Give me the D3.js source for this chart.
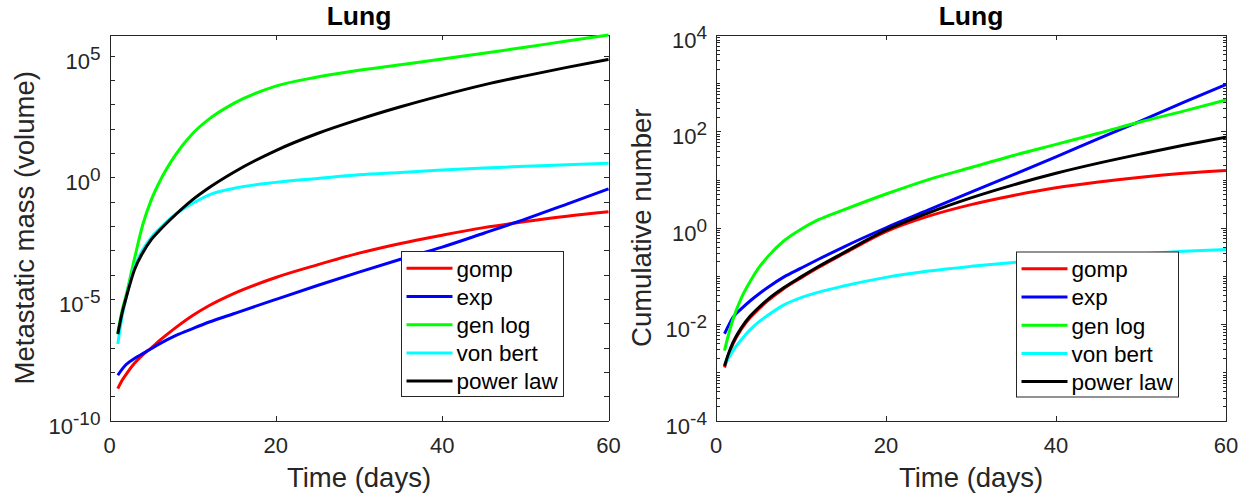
<!DOCTYPE html>
<html>
<head>
<meta charset="utf-8">
<script src="https://cdn.jsdelivr.net/npm/d3@7/dist/d3.min.js"></script>
<style>
    body { margin: 0; background: #fff; }
    svg text { font-family: "Liberation Sans", Arial, Helvetica, sans-serif; fill: #262626; }
</style>
</head>
<body>
<div id="chart"></div>
<script>
// sample days (same for both panels)
var days = [1, 1.5, 2, 3, 4, 5, 6, 8, 10, 12, 15, 20, 25, 30, 35, 40, 45, 50, 55, 60];

var series_names  = ['gomp', 'exp', 'gen log', 'von bert', 'power law'];
var series_colors = ['#ff0000', '#0000ff', '#00ff00', '#00ffff', '#000000'];

// left panel - metastatic mass (volume)
var mass_gomp    = [2.04e-9, 4.37e-9, 7.94e-9, 2.24e-8, 5.01e-8, 9.55e-8, 1.91e-7, 6.76e-7, 2.09e-6, 5.37e-6,
                    1.70e-5, 7.59e-5, 2.51e-4, 7.59e-4, 1.91e-3, 4.17e-3, 8.51e-3, 1.51e-2, 2.51e-2, 3.80e-2];
var mass_exp     = [7.24e-9, 1.26e-8, 2.0e-8, 3.55e-8, 5.62e-8, 8.91e-8, 1.41e-7, 3.16e-7, 6.03e-7, 1.12e-6,
                    2.51e-6, 9.55e-6, 3.55e-5, 1.26e-4, 4.27e-4, 1.35e-3, 5.01e-3, 1.91e-2, 7.94e-2, 0.331];
var mass_genlog  = [3.98e-7, 3.16e-6, 1.41e-5, 4.47e-4, 1.12e-2, 0.112, 0.631, 8.91, 63.1, 251,
                    1120, 5620, 13200, 25100, 42700, 72400, 126000, 224000, 398000, 708000];
var mass_vonbert = [1.41e-7, 1.78e-6, 1.12e-5, 2.0e-4, 1.05e-3, 3.31e-3, 7.59e-3, 3.16e-2, 8.51e-2, 0.191,
                    0.355, 0.617, 0.891, 1.26, 1.58, 2.0, 2.40, 2.82, 3.31, 3.80];
var mass_power   = [3.55e-7, 2.51e-6, 1.12e-5, 1.58e-4, 7.94e-4, 2.69e-3, 6.46e-3, 3.02e-2, 0.120, 0.380,
                    1.66, 12.6, 63.1, 240, 794, 2340, 6310, 14800, 33100, 70800];

// right panel - cumulative number
var num_gomp    = [1.26e-3, 2.34e-3, 3.89e-3, 7.94e-3, 1.35e-2, 2.04e-2, 2.95e-2, 5.50e-2, 9.12e-2, 0.148,
                   0.288, 0.832, 1.74, 3.02, 4.68, 6.76, 8.91, 11.2, 13.5, 15.5];
var num_exp     = [6.31e-3, 9.55e-3, 1.38e-2, 2.09e-2, 3.02e-2, 4.17e-2, 5.62e-2, 9.55e-2, 0.145, 0.219,
                   0.398, 1.0, 2.34, 5.50, 12.6, 29.5, 70.8, 166, 398, 933];
var num_genlog  = [2.82e-3, 6.31e-3, 1.26e-2, 3.55e-2, 7.59e-2, 0.145, 0.240, 0.537, 0.933, 1.45,
                   2.34, 5.01, 10.0, 17.8, 31.6, 53.7, 91.2, 158, 263, 447];
var num_vonbert = [1.41e-3, 2.0e-3, 2.82e-3, 4.79e-3, 7.59e-3, 1.10e-2, 1.48e-2, 2.51e-2, 3.55e-2, 4.57e-2,
                   6.17e-2, 9.33e-2, 0.126, 0.158, 0.191, 0.224, 0.257, 0.288, 0.324, 0.355];
var num_power   = [1.35e-3, 2.51e-3, 4.17e-3, 8.51e-3, 1.45e-2, 2.19e-2, 3.16e-2, 5.75e-2, 9.55e-2, 0.155,
                   0.302, 0.891, 2.04, 4.17, 7.76, 13.5, 21.9, 33.9, 51.3, 75.9];

// tick labels
var x_ticks       = [0, 20, 40, 60];
var mass_exponent = [-10, -5, 0, 5];
var num_exponent  = [-4, -2, 0, 2, 4];

var svg = d3.select('#chart')
    .append('svg')
    .attr('width', 1249)
    .attr('height', 499);

draw_panel({
    left: 109.5, right: 608.5, top: 35, bottom: 420.5,
    y_domain: [1e-10, d3.max(mass_genlog)],
    exponents: mass_exponent,
    minor: d3.range(-10, 6).map(function(k) { return Math.pow(10, k); }),
    minor_len: 5,
    series: [mass_gomp, mass_exp, mass_genlog, mass_vonbert, mass_power],
    y_label: 'Metastatic mass (volume)', y_label_x: 34,
    legend_x: 401.5, legend_y: 251.5
});

draw_panel({
    left: 716, right: 1226, top: 35, bottom: 420.5,
    y_domain: [1e-4, 1e4],
    exponents: num_exponent,
    minor: d3.merge(d3.range(-4, 4).map(function(k) {
        return d3.range(1, 10).map(function(m) { return m * Math.pow(10, k); });
    })),
    minor_len: 3.5,
    series: [num_gomp, num_exp, num_genlog, num_vonbert, num_power],
    y_label: 'Cumulative number', y_label_x: 651,
    legend_x: 1016.5, legend_y: 252
});

function draw_panel(p) {
    var g = svg.append('g');

    var x_scale = d3.scaleLinear().domain([0, 60]).range([p.left, p.right]);
    var y_scale = d3.scaleLog().domain(p.y_domain).range([p.bottom, p.top]);

    var major = p.exponents.map(function(e) { return Math.pow(10, e); });

// axes, ticks pointing inward on all four sides
    var axes = [
        [d3.axisBottom(x_scale).tickValues(x_ticks), p.bottom, 'y', 5],
        [d3.axisTop(x_scale).tickValues(x_ticks), p.top, 'y', 5],
        [d3.axisLeft(y_scale).tickValues(p.minor), p.left, 'x', p.minor_len],
        [d3.axisRight(y_scale).tickValues(p.minor), p.right, 'x', p.minor_len],
        [d3.axisLeft(y_scale).tickValues(major), p.left, 'x', 5],
        [d3.axisRight(y_scale).tickValues(major), p.right, 'x', 5]
    ];
    axes.forEach(function(a) {
        var ax = g.append('g')
            .attr('transform', a[2] == 'y' ? 'translate(0,' + a[1] + ')' : 'translate(' + a[1] + ',0)')
            .call(a[0].tickSizeInner(-a[3]).tickSizeOuter(0).tickFormat(''));
        ax.selectAll('line, path').attr('stroke', '#262626').attr('stroke-width', 1)
            .attr('shape-rendering', 'crispEdges');
    });

// tick labels
    g.selectAll('.xlab')
        .data(x_ticks)
        .enter()
        .append('text')
        .attr('x', function(d) { return x_scale(d); })
        .attr('y', p.bottom + 32)
        .attr('text-anchor', 'middle')
        .style('font-size', '22px')
        .text(function(d) { return d; });

    var ylab = g.selectAll('.ylab')
        .data(p.exponents)
        .enter()
        .append('text')
        .attr('x', p.left - 9)
        .attr('y', function(d) { return y_scale(Math.pow(10, d)) + 13; })
        .attr('text-anchor', 'end')
        .style('font-size', '22px');
    ylab.append('tspan').text('10');
    ylab.append('tspan')
        .attr('dy', -9)
        .style('font-size', '19px')
        .text(function(d) { return d; });

// curves
    var line = d3.line()
        .x(function(d) { return x_scale(d[0]); })
        .y(function(d) { return y_scale(d[1]); })
        .curve(d3.curveMonotoneX);

    p.series.forEach(function(values, i) {
        g.append('path')
            .datum(d3.zip(days, values))
            .attr('d', line)
            .attr('fill', 'none')
            .attr('stroke', series_colors[i])
            .attr('stroke-width', 3);
    });

// titles
    var cx = (p.left + p.right) / 2;
    g.append('text')
        .attr('x', cx).attr('y', 25)
        .attr('text-anchor', 'middle')
        .style('font-size', '26.5px').style('font-weight', 'bold')
        .style('fill', '#000')
        .text('Lung');
    g.append('text')
        .attr('x', cx).attr('y', 487)
        .attr('text-anchor', 'middle')
        .style('font-size', '27.5px')
        .text('Time (days)');
    g.append('text')
        .attr('transform', 'translate(' + p.y_label_x + ',' + (p.top + p.bottom) / 2 + ') rotate(-90)')
        .attr('text-anchor', 'middle')
        .style('font-size', '27.5px')
        .text(p.y_label);

// legend
    var lg = g.append('g').attr('transform', 'translate(' + p.legend_x + ',' + p.legend_y + ')');
    lg.append('rect')
        .attr('width', 162).attr('height', 145)
        .attr('fill', '#fff').attr('stroke', '#262626').attr('stroke-width', 1);
    series_names.forEach(function(name, i) {
        var yy = 16.8 + i * 28.2;
        lg.append('line')
            .attr('x1', 5).attr('x2', 51).attr('y1', yy).attr('y2', yy)
            .attr('stroke', series_colors[i]).attr('stroke-width', 3);
        lg.append('text')
            .attr('x', 55).attr('y', yy + 8.3)
            .style('font-size', '22.5px')
            .style('fill', '#000')
            .text(name);
    });
}
</script>
</body>
</html>
